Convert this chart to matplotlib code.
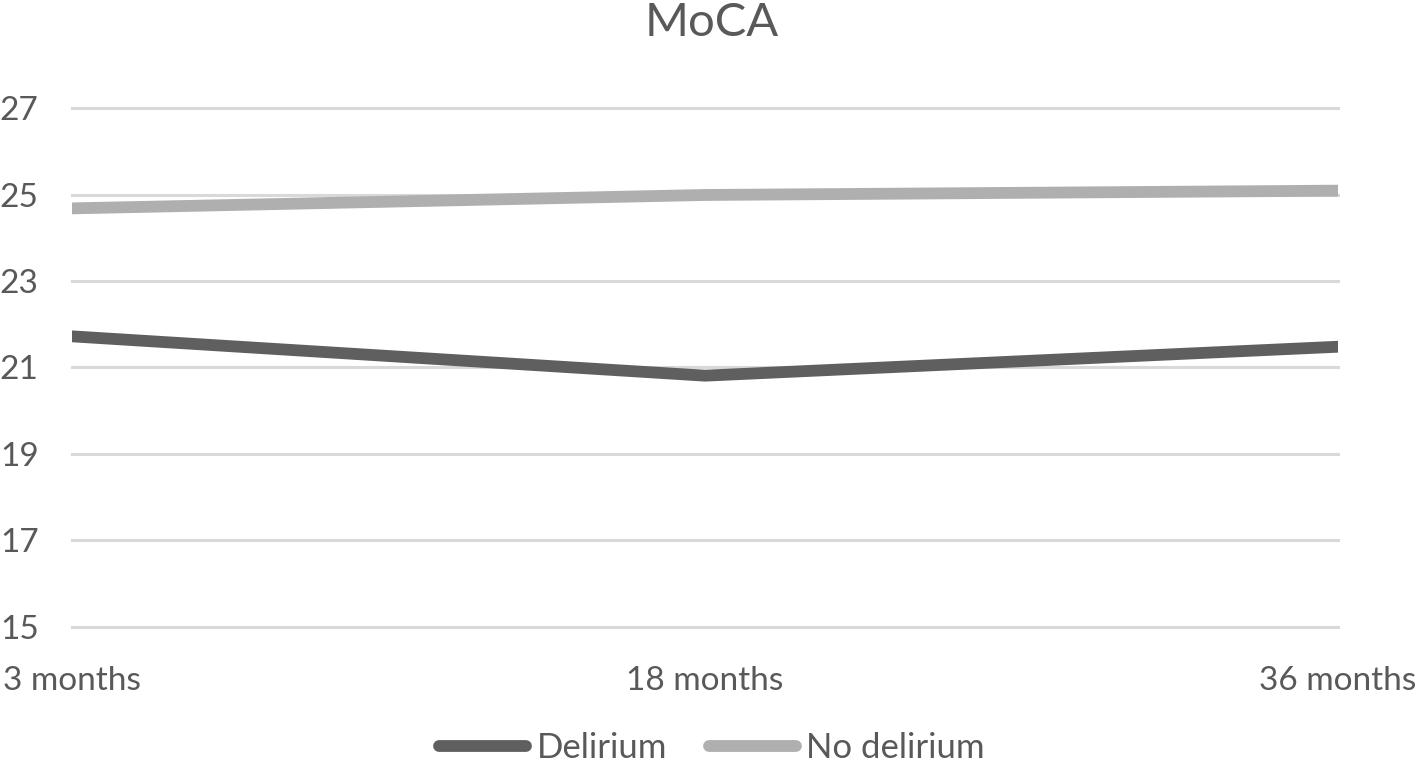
import matplotlib
matplotlib.use('Agg')
import matplotlib.pyplot as plt

# Daten
zeitpunkte = ['3 months', '18 months', '36 months']
delirium = [21.72, 20.81, 21.48]
kein_delirium = [24.68, 24.99, 25.09]
y_ticks = [15, 17, 19, 21, 23, 25, 27]

plt.rcParams['font.family'] = ['Lato', 'DejaVu Sans']
textfarbe = '#595959'

fig = plt.figure(figsize=(14.24, 7.72), dpi=100)
ax = fig.add_axes([0.0506, 0.188, 0.889, 0.672])

x = range(len(zeitpunkte))
ax.plot(x, delirium, color='#5f5f5f', linewidth=8.5, solid_capstyle='round', label='Delirium', zorder=3)
ax.plot(x, kein_delirium, color='#afafaf', linewidth=8.5, solid_capstyle='round', label='No delirium', zorder=3)

ax.set_xlim(0, len(zeitpunkte) - 1)
ax.set_ylim(15, 27)
ax.set_yticks(y_ticks)
ax.set_xticks(list(x))
ax.set_xticklabels(zeitpunkte)
ax.grid(axis='y', color='#d9d9d9', linewidth=2.2, zorder=0)
for gl in ax.get_ygridlines():
    gl.set_clip_on(False)
ax.tick_params(axis='both', length=0, labelsize=24, labelcolor=textfarbe)
ax.tick_params(axis='y', pad=24)
ax.tick_params(axis='x', pad=28)
for s in ax.spines.values():
    s.set_visible(False)

fig.suptitle('MoCA', fontsize=34, color=textfarbe, y=0.998, va='top')

leg = fig.legend(loc='lower center', bbox_to_anchor=(0.5, -0.03), ncol=2, frameon=False,
                 fontsize=25, handlelength=2.5, handletextpad=0.3, columnspacing=1.2)
for t in leg.get_texts():
    t.set_color(textfarbe)

fig.savefig('out.png', dpi=100)
